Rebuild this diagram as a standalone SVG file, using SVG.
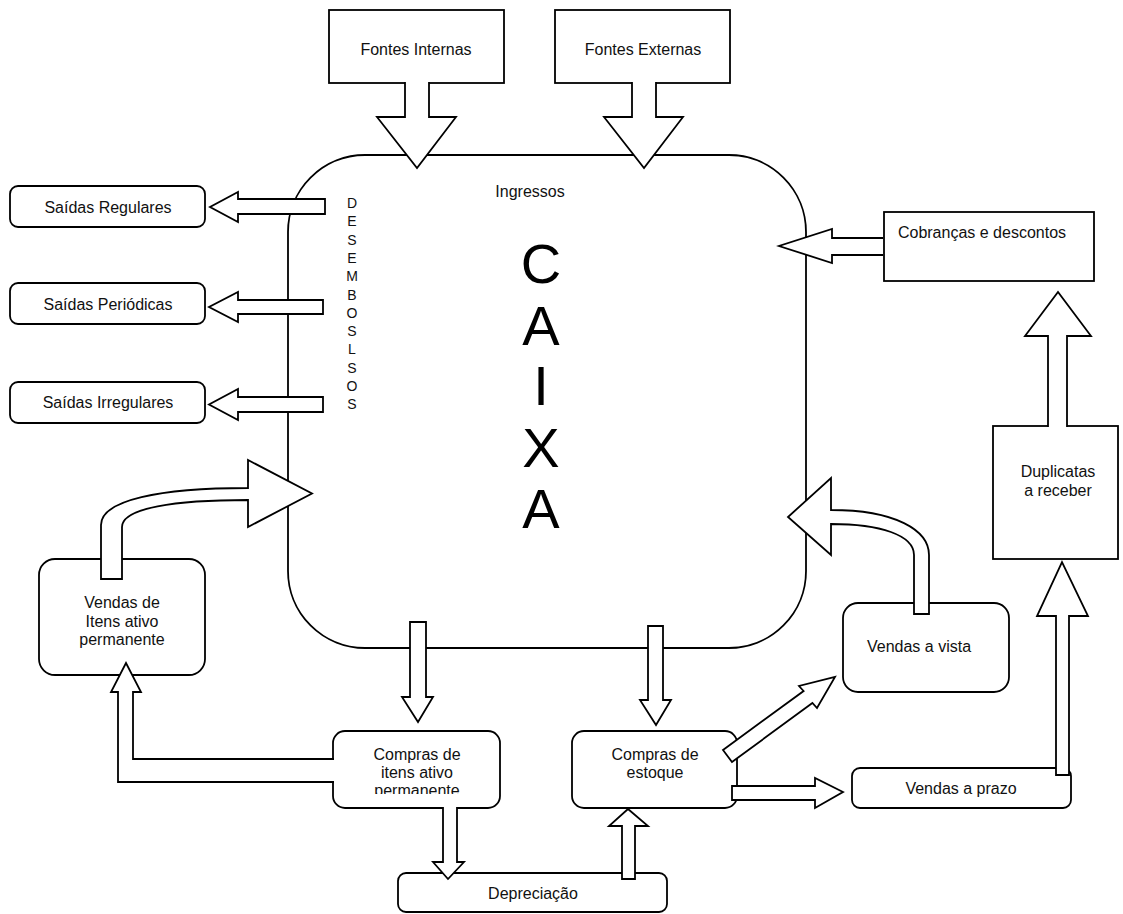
<svg xmlns="http://www.w3.org/2000/svg" width="1123" height="914" viewBox="0 0 1123 914">
<defs>
<style>
.box{fill:#fff;stroke:#000;stroke-width:1.8}
.arr{fill:#fff;stroke:#000;stroke-width:1.8;stroke-linejoin:miter}
.t{font-family:"Liberation Sans",Arial,sans-serif;font-size:16px;fill:#111;text-anchor:middle}
.big{font-family:"Liberation Sans",Arial,sans-serif;font-size:56px;fill:#000;text-anchor:middle}
.v{font-family:"Liberation Sans",Arial,sans-serif;font-size:14px;fill:#111;text-anchor:middle}
</style>
<clipPath id="clipCI"><rect x="333" y="731" width="167" height="63"/></clipPath>
</defs>
<rect width="1123" height="914" fill="#fff"/>

<g id="caixa">
<rect class="box" x="288" y="155" width="518" height="493" rx="77" ry="77"/>
<text class="t" x="530" y="197">Ingressos</text>
<text class="big" x="541" y="283">C</text>
<text class="big" x="541" y="345">A</text>
<text class="big" x="541" y="405">I</text>
<text class="big" x="541" y="467">X</text>
<text class="big" x="541" y="528">A</text>
<g id="desembolsos">
<text class="v" x="352" y="208">D</text>
<text class="v" x="352" y="226">E</text>
<text class="v" x="352" y="245">S</text>
<text class="v" x="352" y="263">E</text>
<text class="v" x="352" y="281">M</text>
<text class="v" x="352" y="300">B</text>
<text class="v" x="352" y="318">O</text>
<text class="v" x="352" y="336">S</text>
<text class="v" x="352" y="354">L</text>
<text class="v" x="352" y="373">S</text>
<text class="v" x="352" y="391">O</text>
<text class="v" x="352" y="409">S</text>
</g>
</g>

<g id="fontes-internas">
<rect class="box" x="329" y="10" width="175" height="73"/>
<text class="t" x="416" y="55">Fontes Internas</text>
</g>
<g id="fontes-externas">
<rect class="box" x="555" y="10" width="175" height="73"/>
<text class="t" x="643" y="55">Fontes Externas</text>
</g>
<g id="saidas-regulares">
<rect class="box" x="10" y="186" width="195" height="41" rx="8"/>
<text class="t" x="108" y="213">Saídas Regulares</text>
</g>
<g id="saidas-periodicas">
<rect class="box" x="10" y="283" width="195" height="41" rx="8"/>
<text class="t" x="108" y="310">Saídas Periódicas</text>
</g>
<g id="saidas-irregulares">
<rect class="box" x="10" y="382" width="195" height="41" rx="8"/>
<text class="t" x="108" y="408">Saídas Irregulares</text>
</g>
<g id="vendas-itens">
<rect class="box" x="39" y="559" width="166" height="116" rx="16"/>
<text class="t" x="122" y="608">Vendas de</text>
<text class="t" x="122" y="627">Itens ativo</text>
<text class="t" x="122" y="645">permanente</text>
</g>
<g id="compras-itens">
<rect class="box" x="333" y="731" width="167" height="77" rx="12"/>
<text class="t" x="417" y="760">Compras de</text>
<text class="t" x="417" y="778">itens ativo</text>
<text class="t" x="417" y="796" clip-path="url(#clipCI)">permanente</text>
</g>
<g id="compras-estoque">
<rect class="box" x="572" y="731" width="165" height="77" rx="12"/>
<text class="t" x="655" y="760">Compras de</text>
<text class="t" x="655" y="778">estoque</text>
</g>
<g id="depreciacao">
<rect class="box" x="398" y="873" width="269" height="39" rx="8"/>
<text class="t" x="533" y="899">Depreciação</text>
</g>
<g id="vendas-vista">
<rect class="box" x="843" y="603" width="166" height="89" rx="15"/>
<text class="t" x="919" y="652">Vendas a vista</text>
</g>
<g id="vendas-prazo">
<rect class="box" x="852" y="768" width="219" height="40" rx="8"/>
<text class="t" x="961" y="794">Vendas a prazo</text>
</g>
<g id="duplicatas">
<rect class="box" x="993" y="426" width="125" height="133"/>
<text class="t" x="1058" y="477">Duplicatas</text>
<text class="t" x="1058" y="496">a receber</text>
</g>
<g id="cobrancas">
<rect class="box" x="884" y="212" width="210" height="69"/>
<text class="t" x="982" y="238">Cobranças e descontos</text>
</g>

<g id="connectors">
<path class="arr" d="M405,82 V117 H377 L417,168 L456,117 H429 V82"/>
<path class="arr" d="M632,82 V117 H604 L644,168 L683,117 H656 V82"/>
<path class="arr" d="M325,199 H238 V192 L210,207 L238,222 V214 H325 Z"/>
<path class="arr" d="M323,300 H238 V292 L209,307 L238,322 V314 H323 Z"/>
<path class="arr" d="M323,397 H238 V389 L209,404.5 L238,420 V412 H323 Z"/>
<path class="arr" d="M101,579 V525 C101,500 160,488 248,488 V460 L312,493.5 L248,527 V500 C175,500 122,508 122,527 V579 Z"/>
<path class="arr" d="M334,759 H133 V692 H141 L126,663 L111,692 H118 V782 H334"/>
<path class="arr" d="M410,622 V697 H402 L418,722 L433,697 H426 V622 Z"/>
<path class="arr" d="M648,626 V700 H640 L656,725 L671,700 H663 V626 Z"/>
<path class="arr" d="M443,807 V862 H433 L448,879 L464,862 H457 V807"/>
<path class="arr" d="M622,879 V826 H609 L628,809 L648,826 H635 V879 Z"/>
<path class="arr" d="M723,750 L803.6,691 L799,686 L835,677 L817,708 L812.4,703 L732,762 Z"/>
<path class="arr" d="M732,786 H815 V778 L843,792 L815,808 V800 H732 Z"/>
<path class="arr" d="M914,614 V555 C914,535 880,524 831,524 V555 L788,517 L831,478 V510 C895,510 929,530 929,555 V614 Z"/>
<path class="arr" d="M1056,775 V616 H1037 L1062,562 L1088,616 H1069 V775 Z"/>
<path class="arr" d="M1048,427 V336 H1025 L1058,292 L1091,336 H1067 V427"/>
<path class="arr" d="M883,238 H832 V229 L779,246 L832,263 V255 H883"/>
</g>
</svg>
